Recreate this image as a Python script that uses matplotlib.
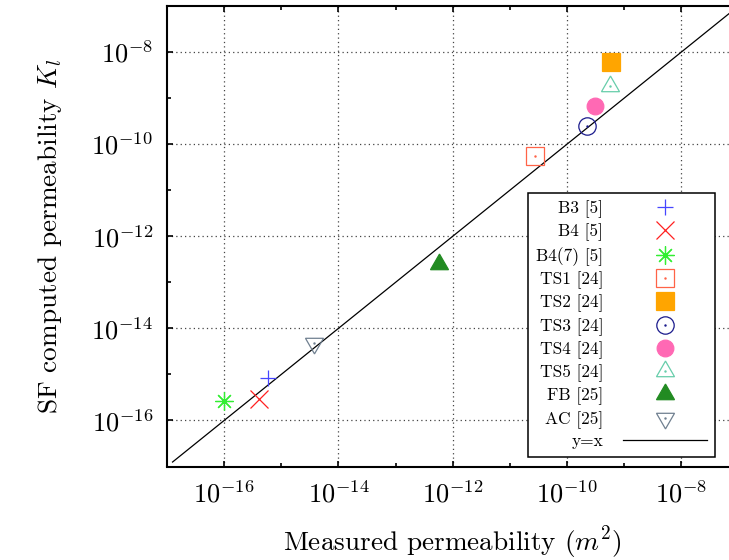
import matplotlib.pyplot as plt
import numpy as np
from matplotlib.legend_handler import HandlerTuple
from matplotlib.ticker import FixedLocator, FuncFormatter, NullFormatter

plt.rcParams['font.family'] = 'serif'
plt.rcParams['font.serif'] = ['cmr10']
plt.rcParams['mathtext.fontset'] = 'cm'
plt.rcParams['axes.unicode_minus'] = False

labels = ['B3 [5]', 'B4 [5]', 'B4(7) [5]', 'TS1 [24]', 'TS2 [24]',
          'TS3 [24]', 'TS4 [24]', 'TS5 [24]', 'FB [25]', 'AC [25]']
measured = [5.9e-16, 4.0e-16, 1.0e-16, 2.7e-11, 5.9e-10,
            2.2e-10, 3.1e-10, 5.6e-10, 5.8e-13, 3.66e-15]
computed = [8.2e-16, 2.9e-16, 2.6e-16, 5.4e-11, 6.0e-9,
            2.5e-10, 6.6e-10, 1.8e-9, 2.45e-13, 4.8e-15]
diag = [1.25e-17, 1e-7]

# marker, colour, size (pt), filled, centre dot
styles = [
    ('+', '#4646ff', 11.5, False, False),
    ('x', '#ff2020', 13, False, False),
    ((8, 2, 0), '#33ee33', 13, False, False),
    ('s', '#ff6347', 12.5, False, True),
    ('s', '#ffa500', 13, True, False),
    ('o', '#1a1a8c', 12.5, False, True),
    ('o', '#ff69b4', 12, True, False),
    ((3, 0, 0), '#66cdaa', 15, False, True),
    ((3, 0, 0), '#228b22', 15, True, False),
    ((3, 0, 180), '#708090', 15, False, True),
]

fig = plt.figure(figsize=(7.29, 5.6), dpi=100)
ax = fig.add_axes([167 / 729, 1 - 466.5 / 560, 571.5 / 729, 460.5 / 560])

handles = []
for i, (m, c, ms, filled, dot) in enumerate(styles):
    h, = ax.plot(measured[i], computed[i], linestyle='none', marker=m, markersize=ms,
                 markeredgecolor=c, markerfacecolor=c if filled else 'none',
                 markeredgewidth=0.9, zorder=3)
    if dot:
        d, = ax.plot(measured[i], computed[i], linestyle='none', marker='.',
                     markersize=1.5, color=c, zorder=3)
        handles.append((h, d))
    else:
        handles.append(h)

line, = ax.plot(diag, diag, color='black', lw=0.9, zorder=2)
handles.append(line)

ax.set_xscale('log')
ax.set_yscale('log')
ax.set_xlim(1e-17, 1e-7)
ax.set_ylim(1e-17, 1e-7)

major = [10.0 ** e for e in range(-16, -7, 2)]
minor = [10.0 ** e for e in range(-15, -8, 2)]
fmt = FuncFormatter(lambda v, p: r'$10^{%d}$' % round(np.log10(v)))
for axis in (ax.xaxis, ax.yaxis):
    axis.set_major_locator(FixedLocator(major))
    axis.set_minor_locator(FixedLocator(minor))
    axis.set_major_formatter(fmt)
    axis.set_minor_formatter(NullFormatter())

ax.tick_params(which='both', direction='in', top=True, right=True, width=1.2)
ax.tick_params(which='major', length=4.5, labelsize=19, pad=10)
ax.tick_params(which='minor', length=3)
for s in ax.spines.values():
    s.set_linewidth(1.5)

ax.grid(True, which='major', linestyle=(0, (1, 2.5)), color='#444444', lw=0.9)

ax.set_xlabel('Measured permeability ($m^2$)', fontsize=19.6)
ax.set_ylabel('SF computed permeability $K_l$', fontsize=19.6)
ax.xaxis.set_label_coords(0.5, -0.125)
ax.yaxis.set_label_coords(-0.181, 0.5)

leg = ax.legend(handles, labels + ['y=x'], loc='lower right',
                bbox_to_anchor=(715 / 729, 1 - 457.3 / 560),
                bbox_transform=fig.transFigure, markerfirst=False,
                handler_map={tuple: HandlerTuple(ndivide=1)},
                fontsize=12.5, handlelength=4.84, handletextpad=1.15,
                labelspacing=0.32, borderpad=0.45, borderaxespad=0,
                fancybox=False, edgecolor='black', framealpha=1)
leg.get_frame().set_linewidth(1.1)

fig.savefig('out.png', dpi=100)
